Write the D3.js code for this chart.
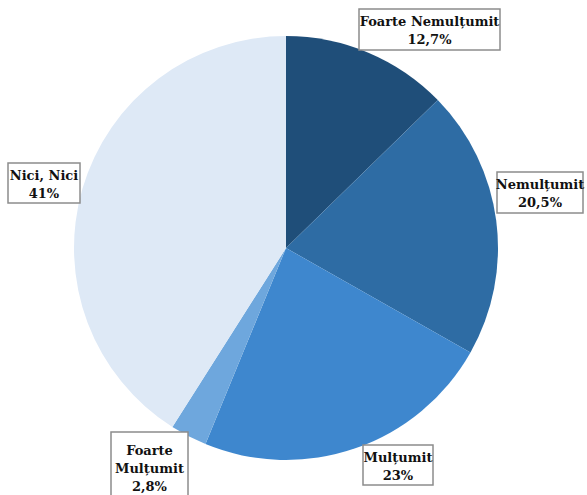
<!DOCTYPE html>
<html>
<head>
<meta charset="utf-8">
<title>Satisfacție</title>
<style>
  body { margin: 0; background: #fff; }
  svg { display: block; }
  .lbl { font-family: 'DejaVu Serif', serif; font-weight: bold; font-size: 13px; fill: #111; }
  .box { fill: #fff; stroke: #8c8c8c; stroke-width: 1.5; }
</style>
</head>
<body>
<div id="chart"></div>
<script src="https://d3js.org/d3.v7.min.js"></script>
<script>
// data, clockwise from 12 o'clock
var categories = ["Foarte Nemulțumit", "Nemulțumit", "Mulțumit", "Foarte Mulțumit", "Nici, Nici"];
var values = [12.7, 20.5, 23, 2.8, 41];
var valueLabels = ["12,7%", "20,5%", "23%", "2,8%", "41%"];
var sliceColors = ["#1f4e79", "#2e6ca4", "#3e87ce", "#6ea7dd", "#dee9f6"];

var width = 587, height = 495,
    cx = 286, cy = 248, radius = 212;

var svg = d3.select("#chart").append("svg")
    .attr("width", width)
    .attr("height", height);

var pie = d3.pie().sort(null).value(function(d){ return d; });
var arc = d3.arc().innerRadius(0).outerRadius(radius);

var g = svg.append("g").attr("transform", "translate(" + cx + "," + cy + ")");

g.selectAll("path")
    .data(pie(values))
    .enter().append("path")
    .attr("d", arc)
    .attr("fill", function(d, i){ return sliceColors[i]; });

// label boxes: left, top, width, height, first baseline offset
var boxes = [
    {x: 359, y: 9, w: 141, h: 41, top: 17, lines: ["Foarte Nemulțumit"]},
    {x: 497, y: 172, w: 86, h: 41, top: 17, lines: ["Nemulțumit"]},
    {x: 363, y: 445, w: 70, h: 40, top: 17, lines: ["Mulțumit"]},
    {x: 111, y: 432, w: 77, h: 70, top: 23, lines: ["Foarte", "Mulțumit"]},
    {x: 8, y: 163, w: 72, h: 40, top: 17, lines: ["Nici, Nici"]}
];

var lab = svg.selectAll(".label")
    .data(boxes)
    .enter().append("g")
    .attr("class", "label");

lab.append("rect")
    .attr("class", "box")
    .attr("x", function(d){ return d.x; })
    .attr("y", function(d){ return d.y; })
    .attr("width", function(d){ return d.w; })
    .attr("height", function(d){ return d.h; });

lab.append("text")
    .attr("class", "lbl")
    .attr("text-anchor", "middle")
    .each(function(d, i){
        var t = d3.select(this);
        var all = d.lines.concat([valueLabels[i]]);
        all.forEach(function(s, k){
            t.append("tspan")
             .attr("x", d.x + d.w / 2)
             .attr("y", d.y + d.top + k * 18)
             .text(s);
        });
    });
</script>
</body>
</html>
